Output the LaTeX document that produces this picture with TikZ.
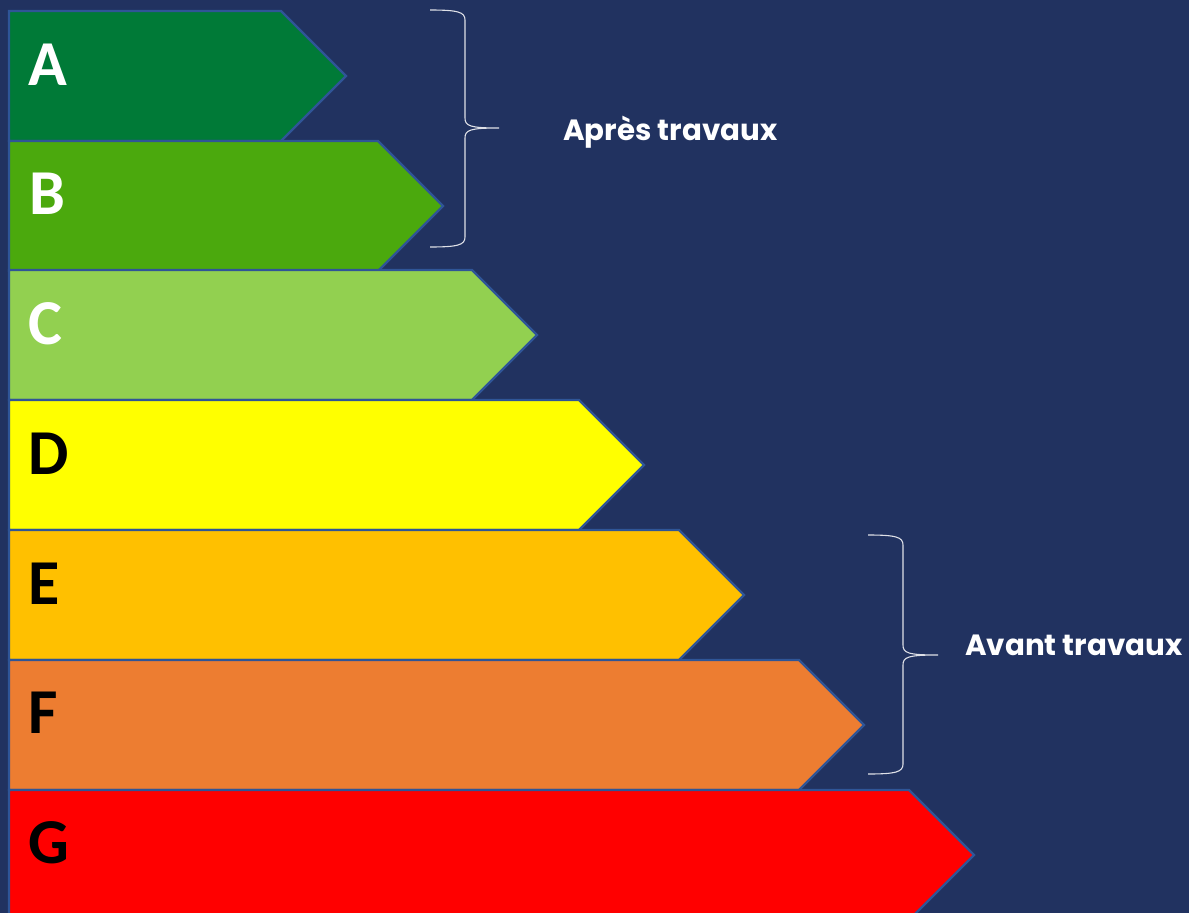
\documentclass[tikz,border=0pt]{standalone}
\usepackage{fontspec}
\newfontfamily\carl{Carlito}
\newfontfamily\pop{Poppins}
\definecolor{bg}{HTML}{213260}
\definecolor{edge}{HTML}{2F5597}
\definecolor{cA}{HTML}{007A37}
\definecolor{cB}{HTML}{4BA90D}
\definecolor{cC}{HTML}{92D050}
\definecolor{cD}{HTML}{FFFF00}
\definecolor{cE}{HTML}{FFC000}
\definecolor{cF}{HTML}{ED7D31}
\definecolor{cG}{HTML}{FF0000}
\tikzset{
  band/.style={draw=edge, line width=2.4pt, line join=miter},
  grade/.style={anchor=base west, inner sep=0pt, font=\carl\bfseries\fontsize{64}{64}\selectfont},
  lbl/.style={anchor=base west, inner sep=0pt, text=white, font=\pop\bfseries\fontsize{29.3}{29.3}\selectfont},
  brace/.style={draw=white!85!bg, line width=1.1pt}
}
\begin{document}
\begin{tikzpicture}[x=1pt,y=-1pt]
\fill[bg] (0,0) rectangle (1189,913);
\useasboundingbox (0,0) rectangle (1189,913);
% bands: top, straight end, tip
\foreach \t/\e/\c in {11/281/cA,141/378/cB,270/472/cC,400/579/cD,530/679/cE,660/799/cF,790/909/cG}{
  \path[band, fill=\c] (9,\t) -- (\e,\t) -- ({\e+65},{\t+65}) -- (\e,{\t+130}) -- (9,{\t+130}) -- cycle;
}
\node[grade, text=white] (A) at (28,85) {A};
\node[grade, text=white] (B) at (29,214) {B};
\node[grade, text=white] (C) at (28,344) {C};
\node[grade, text=black] (D) at (28,474) {D};
\node[grade, text=black] (E) at (28,604) {E};
\node[grade, text=black] (F) at (28,733) {F};
\node[grade, text=black] (G) at (28,863) {G};
% braces
\coordinate (b1t) at (430,10);
\coordinate (b1b) at (430,247);
\coordinate (b1m) at (499,128);
\draw[brace] (b1t) .. controls (458,10) and (465,12) .. (465,20) -- (465,118)
  .. controls (465,126) and (470,128) .. (b1m)
  .. controls (470,128) and (465,130) .. (465,138) -- (465,237)
  .. controls (465,245) and (458,247) .. (b1b);
\coordinate (b2t) at (868,535);
\coordinate (b2b) at (868,774);
\coordinate (b2m) at (938,655);
\draw[brace] (b2t) .. controls (896,535) and (903,537) .. (903,545) -- (903,645)
  .. controls (903,653) and (908,655) .. (b2m)
  .. controls (908,655) and (903,657) .. (903,665) -- (903,764)
  .. controls (903,772) and (896,774) .. (b2b);
\node[lbl] (apres) at (563,140) {Après travaux};
\node[lbl] (avant) at (965,655) {Avant travaux};
\end{tikzpicture}
\end{document}
